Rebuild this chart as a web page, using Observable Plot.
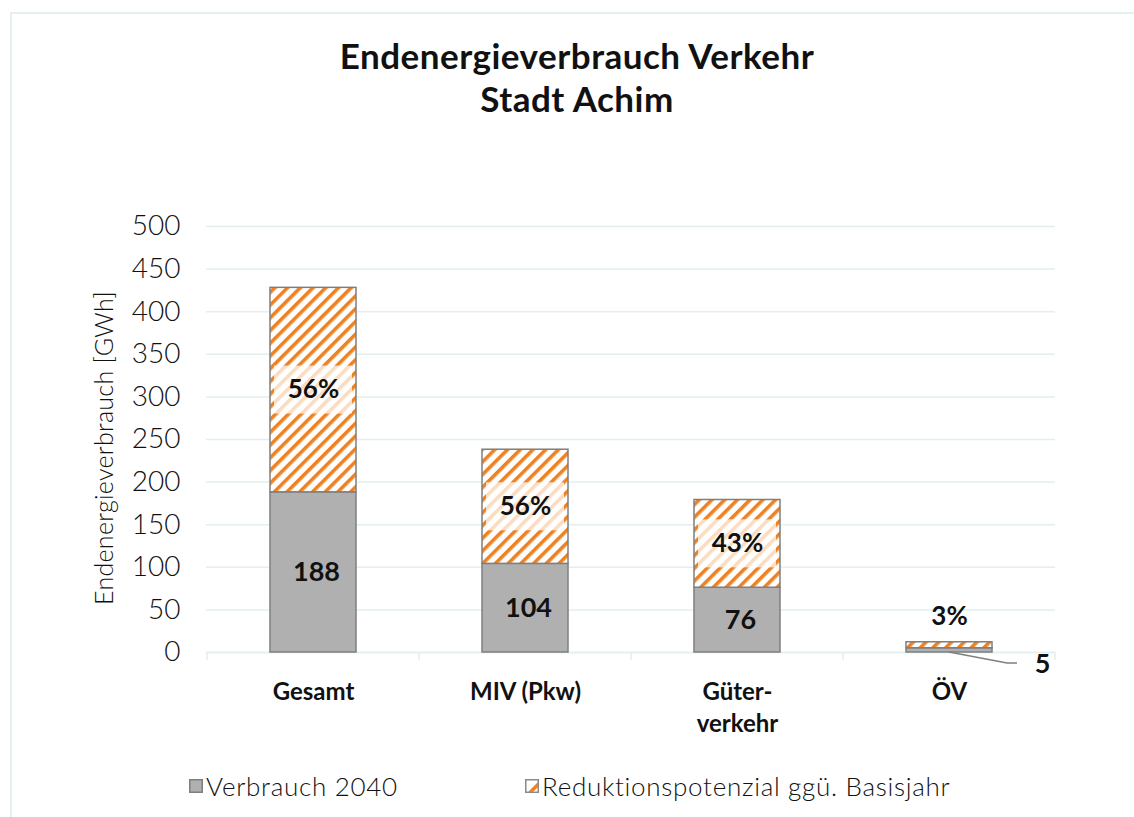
<!DOCTYPE html>
<html><head><meta charset="utf-8">
<script src="https://cdn.jsdelivr.net/npm/d3@7"></script>
<script src="https://cdn.jsdelivr.net/npm/@observablehq/plot@0.6"></script>
<style>
body{margin:0;background:#fff;font-family:Lato,"Open Sans",sans-serif;color:#111}
#frame{position:relative;width:1134px;height:817px;overflow:hidden;background:#fff}
#border{position:absolute;left:10px;top:12px;width:1140px;height:820px;border:2px solid #e4f1ef;box-sizing:border-box;pointer-events:none}
#chart{position:absolute;left:0;top:0}
#title{position:absolute;top:34px;left:0;width:1154px;text-align:center;font-weight:700;font-size:35px;letter-spacing:0.5px;line-height:43px;color:#111}
#ylab{position:absolute;left:103px;top:448px;transform:translate(-50%,-50%) rotate(-90deg);white-space:nowrap;font-size:25px;font-weight:300;letter-spacing:0.3px;color:#111}
.leg{position:absolute;top:770px;display:flex;align-items:center;font-size:26px;font-weight:300;letter-spacing:0.7px;white-space:nowrap}
.leg svg{margin-right:3px}
</style></head>
<body>
<div id="frame">
  <div id="chart"></div>
  <div id="title">Endenergieverbrauch Verkehr<br>Stadt Achim</div>
  <div id="ylab">Endenergieverbrauch [GWh]</div>
  <div class="leg" style="left:189px"><svg width="14" height="14"><rect x="0.75" y="0.75" width="12.5" height="12.5" fill="#b0b0b0" stroke="#7f7f7f" stroke-width="1.5"/></svg><span id="leg1"></span></div>
  <div class="leg" style="left:525px"><svg width="14" height="14"><rect x="0.75" y="0.75" width="12.5" height="12.5" fill="#fff" stroke="#8a8a8a" stroke-width="1.5"/><polygon points="3,13 13,3 13,8 8,13" fill="#ee8222"/></svg><span id="leg2"></span></div>
  <div id="border"></div>
</div>
<script>
const categories = ["Gesamt", "MIV (Pkw)", "Güterverkehr", "ÖV"];
const tickLabels = ["Gesamt", "MIV (Pkw)", "Güter-\nverkehr", "ÖV"];
const verbrauch2040 = [188, 104, 76, 5];
const reduktion = [240, 134, 103, 7];
const reduktionLabels = ["56%", "56%", "43%", "3%"];
const yTicks = [0, 50, 100, 150, 200, 250, 300, 350, 400, 450, 500];
const seriesNames = ["Verbrauch 2040", "Reduktionspotenzial ggü. Basisjahr"];

document.getElementById("leg1").textContent = seriesNames[0];
document.getElementById("leg2").textContent = seriesNames[1];

const rows = categories.map((c, i) => ({
  cat: c, v: verbrauch2040[i], r: reduktion[i], total: verbrauch2040[i] + reduktion[i], pct: reduktionLabels[i]
}));
const big = rows.filter(d => d.r > 30);
const small = rows.filter(d => d.r <= 30);
const grid = "#e1f0ee";
const orange = "#ee8222";

const defsMark = () => {
  const defs = d3.create("svg:defs");
  const p = defs.append("pattern").attr("id", "hatch").attr("patternUnits", "userSpaceOnUse")
    .attr("width", 9).attr("height", 9).attr("patternTransform", "rotate(45)");
  p.append("rect").attr("width", 9).attr("height", 9).attr("fill", "#fff");
  p.append("rect").attr("width", 3.6).attr("height", 9).attr("fill", orange);
  return defs.node();
};

const bandCenter = (scales, c) => scales.x(c) + (scales.x.bandwidth ? scales.x.bandwidth() : 0) / 2;

const leaderMark = (index, scales) => {
  const g = d3.create("svg:g");
  small.forEach(d => {
    const cx = bandCenter(scales, d.cat);
    const y0 = scales.y(0);
    g.append("path").attr("d", `M${cx},${y0} L${cx + 58},${y0 + 11} L${cx + 68},${y0 + 11}`)
      .attr("fill", "none").attr("stroke", "#7f7f7f").attr("stroke-width", 1.5);
  });
  return g.node();
};

const labelBoxes = (index, scales) => {
  const g = d3.create("svg:g");
  big.forEach(d => {
    const cx = bandCenter(scales, d.cat);
    const cy = scales.y(d.v + d.r / 2);
    g.append("rect").attr("x", cx - 39).attr("y", cy - 24).attr("width", 78).attr("height", 48)
      .attr("fill", "#fff").attr("fill-opacity", 0.72);
  });
  return g.node();
};

const categoryTicks = (index, scales) => {
  const g = d3.create("svg:g");
  const x = scales.x;
  const step = x.step ? x.step() : 0;
  const y0 = scales.y(0);
  const bounds = categories.map(c => bandCenter(scales, c) - step / 2);
  bounds.push(bandCenter(scales, categories[categories.length - 1]) + step / 2);
  bounds.forEach(bx => g.append("line").attr("x1", bx).attr("x2", bx).attr("y1", y0).attr("y2", y0 + 8)
    .attr("stroke", grid).attr("stroke-width", 1.5));
  return g.node();
};

const chart = Plot.plot({
  width: 1134, height: 760,
  marginTop: 226, marginBottom: 108, marginLeft: 206, marginRight: 79,
  style: {background: "transparent", fontFamily: "Lato, 'Open Sans', sans-serif", color: "#111"},
  x: {domain: categories, paddingInner: 0.595, paddingOuter: 0.2975},
  y: {domain: [0, 500]},
  marks: [
    defsMark,
    Plot.gridY(yTicks, {stroke: grid, strokeOpacity: 1, strokeWidth: 1.5}),
    Plot.ruleY([0], {stroke: grid, strokeWidth: 1.5}),
    categoryTicks,
    Plot.barY(rows, {x: "cat", y1: 0, y2: "v", fill: "#b0b0b0", stroke: "#7f7f7f", strokeWidth: 1.5}),
    Plot.barY(rows, {x: "cat", y1: "v", y2: "total", fill: "url(#hatch)", stroke: "#7f7f7f", strokeWidth: 1.5}),
    labelBoxes,
    Plot.text(rows.filter(d => d.v > 20), {x: "cat", y: d => d.v / 2, text: d => String(d.v), fontSize: 27, fontWeight: 700, dx: 3, fill: "#111"}),
    Plot.text(big, {x: "cat", y: d => d.v + d.r / 2, text: "pct", fontSize: 26, fontWeight: 700, fill: "#111"}),
    Plot.text(small, {x: "cat", y: "total", text: "pct", dy: -26, fontSize: 26, fontWeight: 700, fill: "#111"}),
    Plot.text(small, {x: "cat", y: 0, text: d => String(d.v), dx: 93, dy: 12, fontSize: 27, fontWeight: 700, fill: "#111"}),
    leaderMark,
    Plot.axisY(yTicks, {tickSize: 0, tickPadding: 26, fontSize: 28, fontWeight: 300, label: null, fill: "#111"}),
    Plot.axisX({tickSize: 0, tickPadding: 24, fontSize: 24, fontWeight: 700, lineHeight: 1.35, label: null,
      tickFormat: d => tickLabels[categories.indexOf(d)], fill: "#111"})
  ]
});
document.getElementById("chart").appendChild(chart);
</script>
</body></html>
